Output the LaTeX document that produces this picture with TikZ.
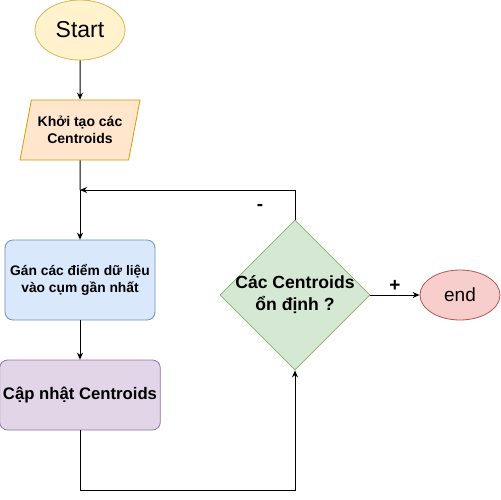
\documentclass[tikz,border=0pt]{standalone}
\usepackage{fontspec}
\setmainfont{Liberation Sans}
\usetikzlibrary{shapes.geometric,arrows.meta}

\definecolor{startfill}{HTML}{FFF2CC}
\definecolor{startline}{HTML}{D6B656}
\definecolor{initfill}{HTML}{FFE6CC}
\definecolor{initline}{HTML}{D79B00}
\definecolor{assignfill}{HTML}{DAE8FC}
\definecolor{assignline}{HTML}{6C8EBF}
\definecolor{updatefill}{HTML}{E1D5E7}
\definecolor{updateline}{HTML}{9673A6}
\definecolor{checkfill}{HTML}{D5E8D4}
\definecolor{checkline}{HTML}{82B366}
\definecolor{endfill}{HTML}{F8CECC}
\definecolor{endline}{HTML}{B85450}

\begin{document}
\begin{tikzpicture}[x=1pt,y=-1pt]
\tikzstyle{every node}=[font=\fontsize{12}{14}\selectfont,align=center]
\tikzstyle{terminal}=[ellipse,draw,line width=0.8pt,inner sep=0pt]
\tikzstyle{process}=[rectangle,rounded corners=8pt,draw,line width=0.8pt]
\tikzstyle{flow}=[-{Stealth[length=7pt,width=6pt]},line width=1pt]
\tikzstyle{sign}=[font=\bfseries\fontsize{19}{20}\selectfont]

% fix the page to the reference size
\useasboundingbox (0,0) rectangle (501,499);

% start and end
\node[terminal,fill=startfill,draw=startline,minimum width=90pt,minimum height=60pt,
  font=\fontsize{23}{26}\selectfont] (start) at (80,30) {Start};
\node[terminal,fill=endfill,draw=endline,minimum width=80pt,minimum height=50pt,
  font=\fontsize{19}{22}\selectfont] (stop) at (460,295) {end};

% init centroids
\node[trapezium,trapezium stretches body,trapezium left angle=71.6,trapezium right angle=108.4,
  draw=initline,fill=initfill,line width=0.8pt,minimum width=120pt,minimum height=60pt,
  font=\bfseries\fontsize{14}{17}\selectfont] (init) at (80,130) {Khởi tạo các\\Centroids};

% assign points
\node[process,fill=assignfill,draw=assignline,minimum width=150pt,minimum height=80pt,
  font=\bfseries\fontsize{13.8}{17}\selectfont] (assign) at (80,280) {Gán các điểm dữ liệu\\vào cụm gần nhất};

% update centroids
\node[process,fill=updatefill,draw=updateline,minimum width=160pt,minimum height=70pt,
  font=\bfseries\fontsize{16.7}{19}\selectfont] (update) at (80,395) {Cập nhật Centroids};

% convergence check
\node[diamond,aspect=1,draw=checkline,fill=checkfill,line width=0.8pt,
  minimum width=150pt,minimum height=150pt,inner sep=0pt] (check) at (295,295) {};
\node[font=\bfseries\fontsize{17.6}{22}\selectfont] (checktext) at (check.center) {Các Centroids\\ổn định ?};

% connectors
\coordinate (merge) at (80,190);
\draw[flow] (start.south) -- (init.south |- init.north);
\draw[line width=1pt] (init.south) -- (merge);
\draw[flow] (merge) -- (assign.north);
\draw[flow] (assign.south) -- (update.north);
\draw[flow] (update.south) -- ++(0,60) -| (check.south);
\draw[flow] (check.north) |- (merge);
\draw[flow] (check.east) -- (stop.west) node[midway,above,sign] {+};

% branch labels
\node[sign] (minus) at (260,207) {-};

\end{tikzpicture}
\end{document}
